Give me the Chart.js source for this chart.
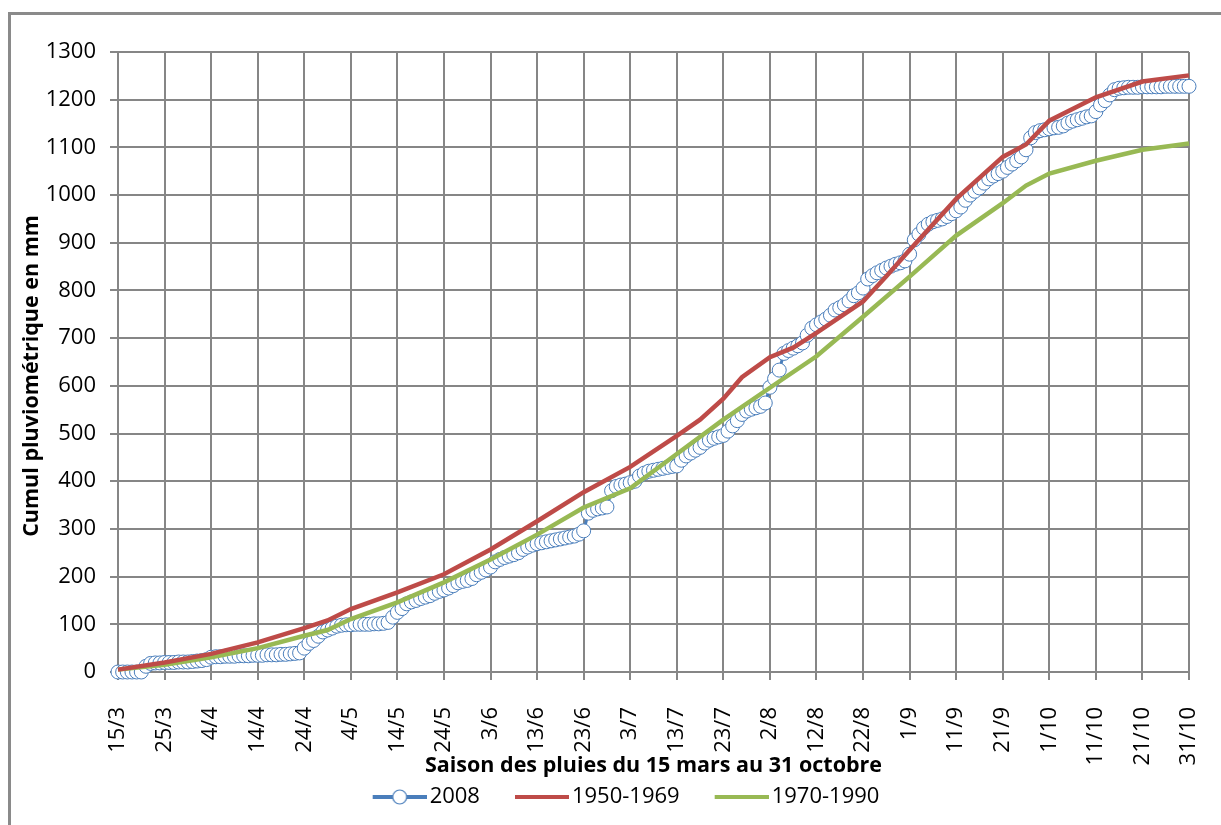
<!DOCTYPE html>
<html>
<head>
<meta charset="utf-8">
<script src="https://cdn.jsdelivr.net/npm/chart.js@4.4.1/dist/chart.umd.min.js"></script>
<style>
html, body { margin: 0; padding: 0; background: #fff; overflow: hidden; }
#frame { position: absolute; left: 8px; top: 12px; width: 1250px; height: 850px; border: 3px solid #8a8a8a; }
#pluie { position: absolute; left: 0; top: 0; }
</style>
</head>
<body>
<div id="frame"></div>
<canvas id="pluie" width="1221" height="825"></canvas>
<script>
// tick labels, one every 10 days from 15/3
const tickLabels = ['15/3','25/3','4/4','14/4','24/4','4/5','14/5','24/5','3/6','13/6','23/6','3/7',
  '13/7','23/7','2/8','12/8','22/8','1/9','11/9','21/9','1/10','11/10','21/10','31/10'];

// 2008 : cumul journalier (mm), jour 0 = 15/3
const rain2008 = [
  0,0,0,0,0,0,12,18,19,19,
  20,20,20,21,21,21,22,23,24,26,
  31,32,32,33,33,33,34,34,34,35,
  35,35,36,36,36,37,37,38,39,40,
  50,60,66,75,84,88,92,96,98,99,
  99,100,100,100,100,101,101,102,104,115,
  125,133,143,147,150,154,157,160,165,169,
  172,176,181,187,190,192,196,204,209,214,
  220,231,236,240,243,246,250,257,262,266,
  269,271,273,275,277,279,281,283,285,289,
  296,333,339,342,344,346,380,389,392,394,
  397,400,411,417,421,423,425,427,429,431,
  432,444,453,459,465,471,480,486,490,493,
  496,505,516,527,540,547,551,554,557,564,
  597,615,633,668,674,679,684,690,706,721,
  728,734,740,748,759,764,770,778,789,795,
  805,824,831,837,842,847,851,855,858,862,
  876,906,918,931,939,944,947,950,955,961,
  967,975,989,1000,1008,1015,1025,1034,1040,1045,
  1050,1058,1065,1072,1080,1095,1120,1131,1135,1137,
  1139,1141,1142,1145,1151,1155,1158,1161,1164,1166,
  1175,1189,1198,1210,1221,1224,1225,1226,1226,1226,
  1227,1227,1227,1227,1227,1228,1228,1228,1228,1228,
  1228
];

// 1950-1969 moyenne
const days1950 = [0,10,20,30,40,45,50,60,70,80,90,100,110,120,125,130,134,140,145,150,160,165,170,180,190,195,200,210,220,230];
const rain1950 = [5,20,38,62,92,108,132,167,205,257,316,377,430,495,529,573,618,660,680,711,777,830,885,992,1080,1106,1156,1205,1238,1251];

// 1970-1990 moyenne
const days1970 = [0,10,20,30,40,45,50,60,70,80,90,100,110,120,130,140,150,160,170,180,190,195,200,210,220,230];
const rain1970 = [5,15,31,50,76,88,111,146,188,236,288,345,385,457,529,596,662,745,829,915,983,1020,1045,1072,1095,1108];

const FONT = "'Open Sans', 'DejaVu Sans', sans-serif";
const GRID = '#868686';

// legend swatch (80px wide, drawn centred on a 64px box so the line
// runs close to the text like in Excel)
function legendIcon(color, marker) {
  const c = document.createElement('canvas');
  c.width = 80; c.height = 18;
  const g = c.getContext('2d');
  g.strokeStyle = color; g.lineWidth = 4;
  g.beginPath(); g.moveTo(26, 9); g.lineTo(80, 9); g.stroke();
  if (marker) {
    g.beginPath(); g.arc(53, 9, 7, 0, Math.PI * 2);
    g.fillStyle = '#fff'; g.fill();
    g.lineWidth = 1.2; g.stroke();
  }
  return c;
}
const icons = [legendIcon('#4A7EBB', true), legendIcon('#BE4B48', false), legendIcon('#98B954', false)];

const ctx = document.getElementById('pluie').getContext('2d');
new Chart(ctx, {
  type: 'line',
  data: {
    datasets: [{
      label: '2008',
      data: rain2008.map((v, i) => ({ x: i, y: v })),
      borderColor: '#4A7EBB',
      borderWidth: 3,
      pointRadius: 7,
      pointBackgroundColor: '#fff',
      pointBorderColor: '#4A7EBB',
      pointBorderWidth: 1,
      clip: false,
      order: 1
    }, {
      label: '1950-1969',
      data: days1950.map((d, i) => ({ x: d, y: rain1950[i] })),
      borderColor: '#BE4B48',
      borderWidth: 4.5,
      pointRadius: 0,
      clip: false,
      order: 0
    }, {
      label: '1970-1990',
      data: days1970.map((d, i) => ({ x: d, y: rain1970[i] })),
      borderColor: '#98B954',
      borderWidth: 4.5,
      pointRadius: 0,
      clip: false,
      order: 0
    }]
  },
  options: {
    responsive: false,
    animation: false,
    devicePixelRatio: 1,
    events: [],
    layout: { padding: { left: 45, top: 52, right: 32, bottom: 7 } },
    scales: {
      x: {
        type: 'linear',
        min: 0,
        max: 230,
        afterFit: s => { s.height = 97; s.paddingLeft = 0; s.paddingRight = 0; },
        ticks: {
          stepSize: 10,
          autoSkip: false,
          minRotation: 90,
          maxRotation: 90,
          padding: 27,
          color: '#000',
          font: { family: FONT, size: 22 },
          callback: v => tickLabels[v / 10]
        },
        grid: { color: GRID, lineWidth: 2, tickLength: 8 },
        border: { color: GRID, width: 2 },
        title: {
          display: true,
          text: 'Saison des pluies du 15 mars au 31 octobre',
          color: '#000',
          font: { family: FONT, size: 21.5, weight: 'bold' },
          padding: { top: 0, bottom: -10 }
        }
      },
      y: {
        min: 0,
        max: 1300,
        afterFit: s => { s.width = 73; },
        ticks: {
          stepSize: 100,
          padding: 14,
          color: '#000',
          font: { family: FONT, size: 22 },
          callback: v => String(v)
        },
        grid: { color: GRID, lineWidth: 2, tickLength: 8 },
        border: { color: GRID, width: 2 },
        title: {
          display: true,
          text: 'Cumul pluviométrique en mm\u00A0\u00A0\u00A0\u00A0\u00A0',
          color: '#000',
          font: { family: FONT, size: 21.5, weight: 'bold' },
          padding: { top: -26, bottom: 0 }
        }
      }
    },
    plugins: {
      tooltip: { enabled: false },
      legend: {
        position: 'bottom',
        labels: {
          usePointStyle: true,
          pointStyleWidth: 64,
          padding: 17,
          color: '#000',
          font: { family: FONT, size: 22 },
          generateLabels: chart => chart.data.datasets.map((ds, i) => ({
            text: ds.label,
            pointStyle: icons[i],
            datasetIndex: i,
            hidden: false,
            lineWidth: 0,
            fillStyle: 'transparent',
            strokeStyle: 'transparent',
            fontColor: '#000'
          }))
        }
      }
    }
  }
});
</script>
</body>
</html>
